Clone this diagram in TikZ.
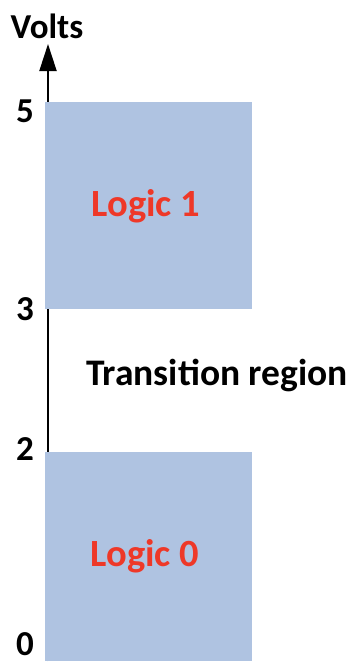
\documentclass[tikz,border=0pt]{standalone}
\usepackage{fontspec}
\setmainfont{Carlito}
\usetikzlibrary{arrows.meta}
\definecolor{boxblue}{RGB}{175,195,225}
\definecolor{logicred}{RGB}{238,56,40}
\tikzset{
  region/.style={fill=boxblue, draw=none},
  tick/.style={font=\bfseries\fontsize{35}{38}\selectfont, anchor=base, inner sep=0pt},
  logic/.style={font=\bfseries\fontsize{38.5}{42}\selectfont, text=logicred, anchor=base, inner sep=0pt},
  big/.style={font=\bfseries\fontsize{37.5}{41}\selectfont, anchor=base, inner sep=0pt},
}
\begin{document}
\begin{tikzpicture}[x=1pt,y=-1pt]
\useasboundingbox (0,0) rectangle (349,662);
\coordinate (base) at (48,661);
\coordinate (tip) at (48,44);
\draw[line width=2pt, -{Triangle[length=27pt,width=17pt]}] (base) -- (tip);
\fill[region] (45,102) rectangle (252,309);
\fill[region] (45,452) rectangle (252,661);
\node[big, font=\bfseries\fontsize{35}{38}\selectfont] (volts) at (47,38) {Volts};
\node[tick] (t5) at (25,122) {5};
\node[tick] (t3) at (25,320) {3};
\node[tick] (t2) at (25,460) {2};
\node[tick] (t0) at (25,655) {0};
\node[logic] (l1) at (146,216) {Logic 1};
\node[logic] (l0) at (145,566) {Logic 0};
\node[big] (tr) at (217,385) {Transition region};
\end{tikzpicture}
\end{document}
